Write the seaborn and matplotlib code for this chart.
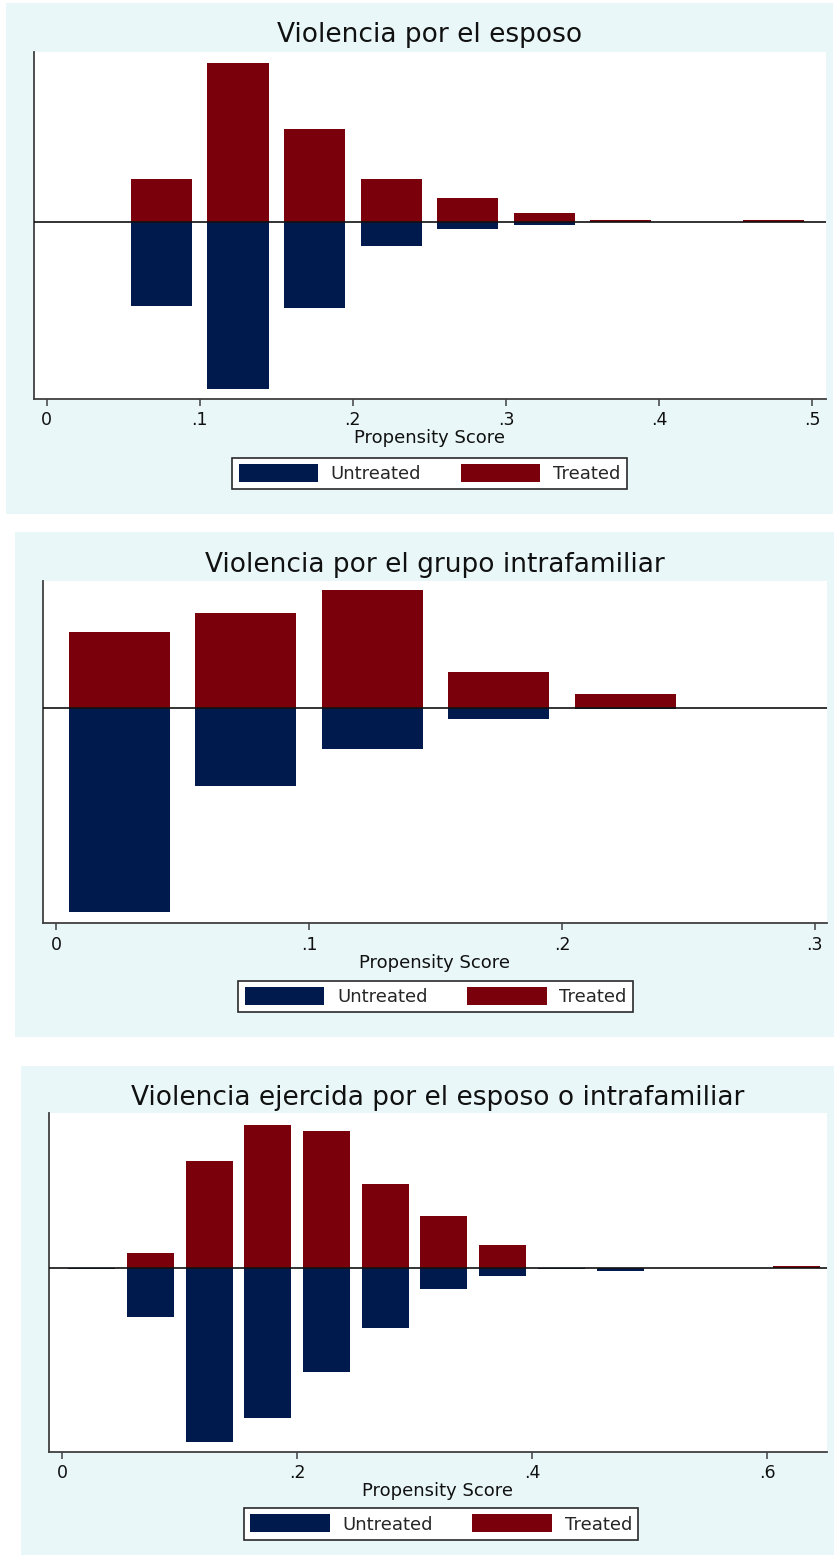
import matplotlib
matplotlib.use("Agg")
import matplotlib.pyplot as plt
from matplotlib.patches import Rectangle, Patch
import seaborn as sns

# ---- data: share of observations per propensity-score bin (width .05) ----
bin_centers_1 = [0.025, 0.075, 0.125, 0.175, 0.225, 0.275, 0.325, 0.375, 0.425, 0.475]
treated_1 = [0.000, 0.114, 0.425, 0.249, 0.114, 0.064, 0.023, 0.005, 0.000, 0.005]
untreated_1 = [0.001, 0.227, 0.448, 0.231, 0.064, 0.019, 0.009, 0.000, 0.001, 0.000]
ticks_1 = [0, 0.1, 0.2, 0.3, 0.4, 0.5]
ticklabels_1 = ["0", ".1", ".2", ".3", ".4", ".5"]

bin_centers_2 = [0.025, 0.075, 0.125, 0.175, 0.225, 0.275]
treated_2 = [0.226, 0.280, 0.348, 0.106, 0.040, 0.000]
untreated_2 = [0.605, 0.233, 0.122, 0.033, 0.005, 0.002]
ticks_2 = [0, 0.1, 0.2, 0.3]
ticklabels_2 = ["0", ".1", ".2", ".3"]

bin_centers_3 = [0.025, 0.075, 0.125, 0.175, 0.225, 0.275, 0.325,
                 0.375, 0.425, 0.475, 0.525, 0.575, 0.625]
treated_3 = [0.000, 0.028, 0.189, 0.253, 0.243, 0.149, 0.092,
             0.041, 0.000, 0.000, 0.000, 0.000, 0.004]
untreated_3 = [0.001, 0.086, 0.306, 0.265, 0.183, 0.105, 0.037,
               0.013, 0.002, 0.004, 0.000, 0.000, 0.000]
ticks_3 = [0, 0.2, 0.4, 0.6]
ticklabels_3 = ["0", ".2", ".4", ".6"]

titles = ["Violencia por el esposo",
          "Violencia por el grupo intrafamiliar",
          "Violencia ejercida por el esposo o intrafamiliar"]
x_label = "Propensity Score"
legend_labels = ["Untreated", "Treated"]

# ---- styling ----
sns.set_style("white")
plt.rcParams["font.family"] = ["DejaVu Sans"]

NAVY = "#001a4e"
MAROON = "#7a000b"
PANEL_BG = "#e9f7f8"
AXIS_GREY = "#404040"

W, H = 834, 1555
fig = plt.figure(figsize=(W / 100, H / 100), dpi=100)
fig.patch.set_facecolor("white")


def fig_box(x0, y0, x1, y1):
    """Pixel box (top-left origin) -> figure-fraction [left, bottom, width, height]."""
    return [x0 / W, 1 - y1 / H, (x1 - x0) / W, (y1 - y0) / H]


panels = [
    dict(centers=bin_centers_1, treated=treated_1, untreated=untreated_1,
         ticks=ticks_1, ticklabels=ticklabels_1, title=titles[0],
         bg=(6, 3, 833, 514), ax=(33.5, 52, 826, 399),
         xlim=(-0.0087, 0.5092), ylim=(-0.475, 0.455),
         title_base=42.3, legend_c=(429.5, 473.5)),
    dict(centers=bin_centers_2, treated=treated_2, untreated=untreated_2,
         ticks=ticks_2, ticklabels=ticklabels_2, title=titles[1],
         bg=(15, 532, 834, 1037), ax=(42.6, 580.7, 827, 923.3),
         xlim=(-0.0053, 0.3048), ylim=(-0.640, 0.377),
         title_base=572.3, legend_c=(435.7, 996.5)),
    dict(centers=bin_centers_3, treated=treated_3, untreated=untreated_3,
         ticks=ticks_3, ticklabels=ticklabels_3, title=titles[2],
         bg=(21, 1066, 834, 1555), ax=(49, 1113.3, 827, 1451.7),
         xlim=(-0.0112, 0.651), ylim=(-0.324, 0.274),
         title_base=1105, legend_c=(441, 1524)),
]

for p in panels:
    # light graph-region background
    bx = fig_box(*p["bg"])
    fig.patches.append(Rectangle((bx[0], bx[1]), bx[2], bx[3],
                                 transform=fig.transFigure, facecolor=PANEL_BG,
                                 edgecolor="none", zorder=-5))

    ax = fig.add_axes(fig_box(*p["ax"]))
    ax.set_facecolor("white")

    # treated above zero, untreated mirrored below
    sns.barplot(x=p["centers"], y=p["treated"], native_scale=True, width=0.8,
                color=MAROON, saturation=1, linewidth=0, errorbar=None, ax=ax)
    sns.barplot(x=p["centers"], y=[-v for v in p["untreated"]], native_scale=True,
                width=0.8, color=NAVY, saturation=1, linewidth=0, errorbar=None, ax=ax)
    ax.axhline(0, color="#111111", lw=1.2, zorder=5)

    ax.set_xlim(*p["xlim"])
    ax.set_ylim(*p["ylim"])
    ax.set_xticks(p["ticks"])
    ax.set_xticklabels(p["ticklabels"])
    ax.set_yticks([])
    ax.set_ylabel("")
    ax.set_xlabel(x_label, fontsize=13, labelpad=0, color="#111111")
    ax.tick_params(axis="x", direction="out", length=5, width=1.1,
                   color=AXIS_GREY, pad=4, labelsize=12.5, labelcolor="#111111",
                   bottom=True)
    for side in ("top", "right"):
        ax.spines[side].set_visible(False)
    for side in ("left", "bottom"):
        ax.spines[side].set_color(AXIS_GREY)
        ax.spines[side].set_linewidth(1.3)

    # title centred over the plot region
    cx = (p["ax"][0] + p["ax"][2]) / 2
    fig.text(cx / W, 1 - p["title_base"] / H, p["title"], ha="center",
             va="baseline", fontsize=19, color="#111111")

    handles = [Patch(facecolor=NAVY, edgecolor="none"),
               Patch(facecolor=MAROON, edgecolor="none")]
    lx, ly = p["legend_c"]
    leg = fig.legend(handles, legend_labels, ncol=2, loc="center",
                     bbox_to_anchor=(lx / W, 1 - ly / H), frameon=True,
                     fancybox=False, fontsize=13, handlelength=4.4,
                     handleheight=1.15, handletextpad=0.7, columnspacing=2.2,
                     borderpad=0.35, borderaxespad=0, framealpha=1)
    leg.get_frame().set_edgecolor("#2a2a2a")
    leg.get_frame().set_linewidth(1.2)
    leg.get_frame().set_facecolor("white")

fig.savefig("out.png", dpi=100, facecolor="white")
